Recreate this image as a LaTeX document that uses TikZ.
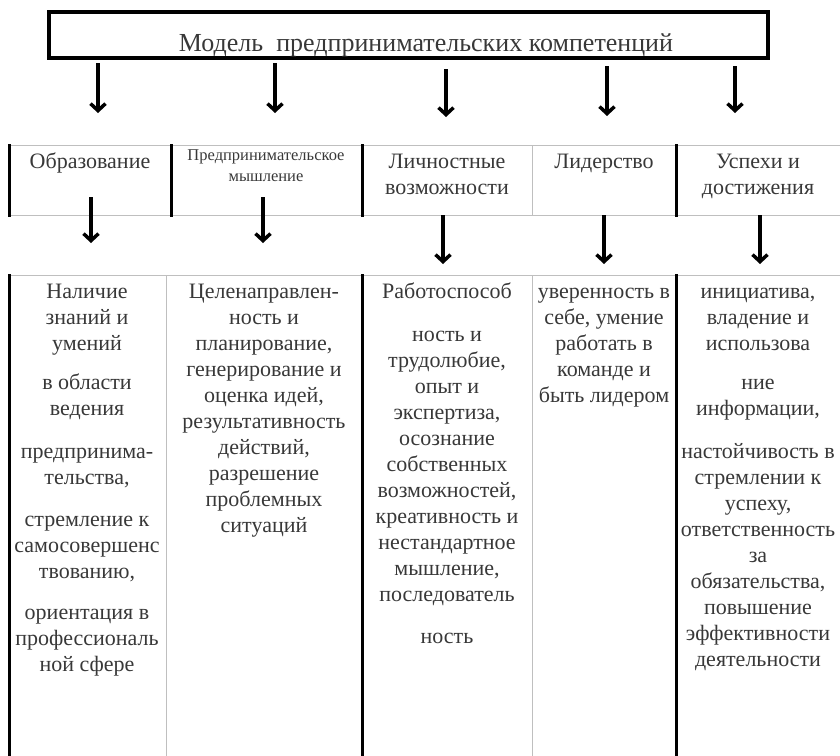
\documentclass[tikz,border=0pt]{standalone}
\usepackage{fontspec}
\setmainfont{Liberation Serif}
\usetikzlibrary{arrows.meta}
\begin{document}
\begin{tikzpicture}[x=1pt,y=-1pt,
  txt/.style={inner sep=0pt, align=center, text=black!78, font=\fontsize{22}{26}\selectfont},
  cell/.style={txt, anchor=north},
  smallcell/.style={cell, font=\fontsize{16.5}{21}\selectfont},
  thickrule/.style={line width=3pt, black, line cap=rect},
  thinrule/.style={line width=1pt, black!25},
  arr/.style={line width=3.5pt, black, -{Straight Barb[length=7pt,width=15pt]}}]
\useasboundingbox (0,0) rectangle (840,755);

% top box
\node[draw, line width=3.5pt, minimum width=719pt, minimum height=46pt, inner sep=0pt] (top) at (408.5,35) {};
\node[txt, anchor=base, font=\fontsize{26}{30}\selectfont] (title) at (426,51) {Модель\ \ предпринимательских компетенций};

% arrows from top box
\foreach \n/\x/\a/\b in {1/98/63/113, 2/275/63/113, 3/446/69/117, 4/607/66/116, 5/735/66/113}{
  \coordinate (ta\n) at (\x,\a);
  \coordinate (tb\n) at (\x,\b);
  \draw[arr] (ta\n) -- (tb\n);
}

% header row rules
\draw[thinrule] (9,145) -- (840,145);
\draw[thinrule] (9,215) -- (840,215);
\draw[thickrule] (9,145) -- (9,215);
\draw[thickrule] (171,145) -- (171,215);
\draw[thickrule] (362,145) -- (362,215);
\draw[thinrule] (532,145) -- (532,215);
\draw[thickrule] (676,145) -- (676,215);

% header texts
\node[cell] (h1) at (90,149.8) {\strut Образование};
\node[smallcell] (h2) at (266,145.3) {\strut Предпринимательское\\мышление};
\node[cell] (h3) at (447,149.8) {\strut Личностные\\возможности};
\node[cell] (h4) at (604,149.8) {\strut Лидерство};
\node[cell] (h5) at (758,149.8) {\strut Успехи и\\достижения};

% second row arrows
\foreach \n/\x/\a/\b in {1/91/197/243, 2/263/197/243, 3/443/215/264, 4/604/215/264, 5/760/215/264}{
  \coordinate (ma\n) at (\x,\a);
  \coordinate (mb\n) at (\x,\b);
  \draw[arr] (ma\n) -- (mb\n);
}

% body rules
\draw[thinrule] (9,275) -- (840,275);
\draw[thickrule] (9,275) -- (9,756);
\draw[thinrule] (166,275) -- (166,756);
\draw[thickrule] (362,275) -- (362,756);
\draw[thinrule] (532,275) -- (532,756);
\draw[thickrule] (676,275) -- (676,756);

% body texts
\node[cell] (b1) at (87,280) {\strut Наличие\\знаний и\\умений\\[13pt]
  в области\\ведения\\[17pt]предпринима-\\тельства,\\[16pt]
  стремление к\\самосовершенс\\твованию,\\[15pt]
  ориентация в\\профессиональ\\ной сфере};
\node[cell] (b2) at (264,280) {\strut Целенаправлен-\\ность и\\планирование,\\генерирование и\\оценка идей,\\результативность\\действий,\\разрешение\\проблемных\\ситуаций};
\node[cell] (b3) at (447,280) {\strut Работоспособ\\[17pt]ность и\\трудолюбие,\\опыт и\\экспертиза,\\осознание\\собственных\\возможностей,\\креативность и\\нестандартное\\мышление,\\последователь\\[16pt]ность};
\node[cell] (b4) at (604,280) {\strut уверенность в\\себе, умение\\работать в\\команде и\\быть лидером};
\node[cell] (b5) at (758,280) {\strut инициатива,\\владение и\\использова\\[13pt]ние\\информации,\\[17pt]
  настойчивость в\\стремлении к\\успеху,\\ответственность\\за\\обязательства,\\повышение\\эффективности\\деятельности};
\end{tikzpicture}
\end{document}
